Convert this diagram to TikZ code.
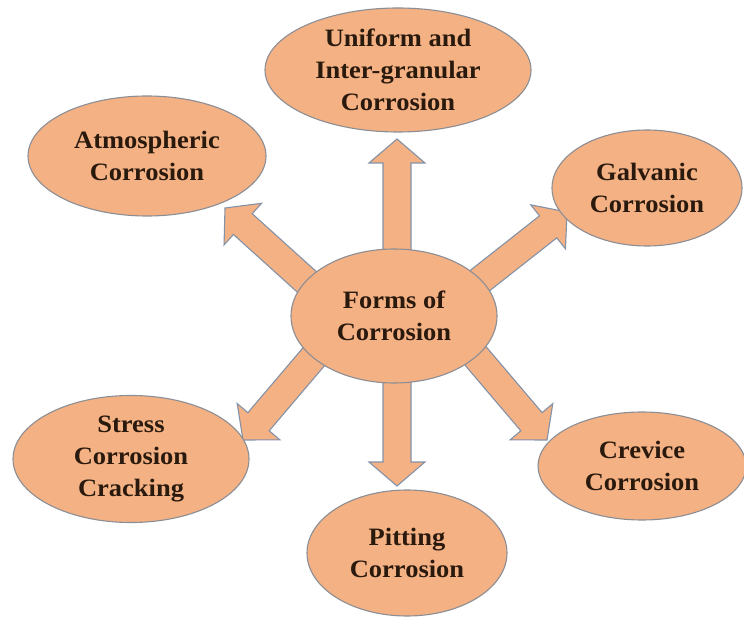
\documentclass[tikz,border=0pt]{standalone}
\usepackage{fontspec}
\setmainfont{Liberation Serif}[FakeStretch=1.06]
\usetikzlibrary{calc,shapes.geometric}
\definecolor{orfill}{HTML}{F4B183}
\definecolor{elline}{HTML}{8C8E96}
\definecolor{arline}{HTML}{8492A8}
\definecolor{txt}{HTML}{2A1A0E}
\tikzset{
  bubble/.style={ellipse, draw=elline, line width=1.1pt, fill=orfill, inner sep=0pt,
    align=center, text=txt, font=\bfseries\fontsize{25}{32}\selectfont},
  blockarrow/.style={draw=arline, line width=1.1pt, fill=orfill, line join=miter}
}
\newcommand{\barrow}[2]{%
  \draw[blockarrow] let \p1=(#1), \p2=(#2), \n1={atan2(\y2-\y1,\x2-\x1)} in
    ($(\p1)+({\n1+90}:14pt)$) --
    ($(\p2)+({\n1+180}:24pt)+({\n1+90}:14pt)$) --
    ($(\p2)+({\n1+180}:24pt)+({\n1+90}:28pt)$) --
    (\p2) --
    ($(\p2)+({\n1+180}:24pt)+({\n1-90}:28pt)$) --
    ($(\p2)+({\n1+180}:24pt)+({\n1-90}:14pt)$) --
    ($(\p1)+({\n1-90}:14pt)$) -- cycle;}
\begin{document}
\begin{tikzpicture}[x=1pt,y=-1pt]
\useasboundingbox (0,0) rectangle (744,617);
\fill[white] (0,0) rectangle (744,617);
% arrow bases (hidden under the centre ellipse) and tips
\coordinate (bU) at (397,300);
\coordinate (tU) at (397,139);
\coordinate (bD) at (397,330);
\coordinate (tD) at (397,486);
\coordinate (bUL) at (338,310);
\coordinate (tUL) at (225,208);
\coordinate (bUR) at (440,312);
\coordinate (tUR) at (567,212);
\coordinate (bLL) at (345,320);
\coordinate (tLL) at (243,440);
\coordinate (bLR) at (445,320);
\coordinate (tLR) at (547,440);
\barrow{bU}{tU}
\barrow{bD}{tD}
\barrow{bUL}{tUL}
\barrow{bUR}{tUR}
\barrow{bLL}{tLL}
\barrow{bLR}{tLR}
% ellipses
\node[bubble, minimum width=206pt, minimum height=134pt] (c) at (394,316) {Forms of\\Corrosion};
\node[bubble, minimum width=266pt, minimum height=124pt] (uni) at (398,70) {Uniform and\\Inter-granular\\Corrosion};
\node[bubble, minimum width=238pt, minimum height=120pt] (atm) at (147,156) {Atmospheric\\Corrosion};
\node[bubble, minimum width=190pt, minimum height=116pt] (gal) at (647,188) {Galvanic\\Corrosion};
\node[bubble, minimum width=236pt, minimum height=127pt] (str) at (131,459) {Stress\\Corrosion\\Cracking};
\node[bubble, minimum width=208pt, minimum height=108pt] (cre) at (642,466) {Crevice\\Corrosion};
\node[bubble, minimum width=200pt, minimum height=126pt] (pit) at (407,553) {Pitting\\Corrosion};
\end{tikzpicture}
\end{document}
